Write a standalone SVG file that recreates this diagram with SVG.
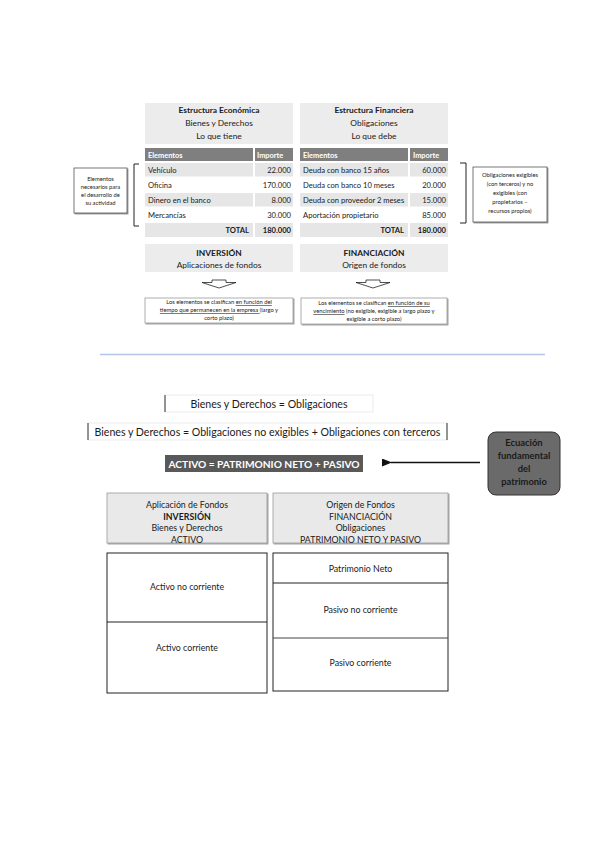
<svg xmlns="http://www.w3.org/2000/svg" width="599" height="848" viewBox="0 0 599 848">
<style>
text{font-family:Lato,"Open Sans","Liberation Sans",sans-serif;fill:#1a1a1a}
.c{text-anchor:middle}
.r{text-anchor:end}
.b{font-weight:bold}
.h{font-size:8.4px}
.t{font-size:7.6px}
.th{font-size:7.4px;fill:#fff;font-weight:bold}
.s{font-size:5.8px}
.hd{fill:#ececec}
.row{fill:#e6e6e6}
.thd{fill:#7f7f7f}
.note{fill:#fff;stroke:#999;stroke-width:0.8}
.eq{font-size:10.6px}
.bx{fill:#fff;stroke:#222;stroke-width:1}
.bh{fill:#e9e9e9;stroke:#999;stroke-width:0.8}
.bt{font-size:8.8px}
.u{text-decoration:underline}
</style>
<defs>
<marker id="ah" markerWidth="10" markerHeight="8" refX="1" refY="4" orient="auto" markerUnits="userSpaceOnUse">
<path d="M10,0 L0,4 L10,8 Z" fill="#111"/>
</marker>
<filter id="sh" x="-10%" y="-10%" width="130%" height="140%">
<feDropShadow dx="1" dy="1" stdDeviation="0.6" flood-color="#000" flood-opacity="0.45"/>
</filter>
</defs>

<g id="eco">
<rect class="hd" x="145" y="103" width="148" height="41"/>
<text class="c b h" x="219" y="113">Estructura Económica</text>
<text class="c h" x="219" y="126">Bienes y Derechos</text>
<text class="c h" x="219" y="139">Lo que tiene</text>
<rect class="thd" x="145" y="148" width="108" height="13"/>
<rect class="thd" x="255" y="148" width="38" height="13"/>
<text class="th" x="148" y="157.5">Elementos</text>
<text class="th" x="257" y="157.5">Importe</text>
<rect class="row" x="145" y="163" width="108" height="13.5"/><rect class="row" x="255" y="163" width="38" height="13.5"/>
<rect class="row" x="145" y="193" width="108" height="13.5"/><rect class="row" x="255" y="193" width="38" height="13.5"/>
<rect class="row" x="145" y="223" width="108" height="14"/><rect class="row" x="255" y="223" width="38" height="14"/>
<text class="t" x="148" y="172.5">Vehículo</text><text class="t r" x="291" y="172.5">22.000</text>
<text class="t" x="148" y="187.5">Oficina</text><text class="t r" x="291" y="187.5">170.000</text>
<text class="t" x="148" y="202.5">Dinero en el banco</text><text class="t r" x="291" y="202.5">8.000</text>
<text class="t" x="148" y="217.5">Mercancías</text><text class="t r" x="291" y="217.5">30.000</text>
<text class="t r b" x="249" y="233">TOTAL</text><text class="t r b" x="291" y="233">180.000</text>
</g>

<g id="fin">
<rect class="hd" x="300" y="103" width="148" height="41"/>
<text class="c b h" x="374" y="113">Estructura Financiera</text>
<text class="c h" x="374" y="126">Obligaciones</text>
<text class="c h" x="374" y="139">Lo que debe</text>
<rect class="thd" x="300" y="148" width="108" height="13"/>
<rect class="thd" x="410" y="148" width="38" height="13"/>
<text class="th" x="303" y="157.5">Elementos</text>
<text class="th" x="413" y="157.5">Importe</text>
<rect class="row" x="300" y="163" width="108" height="13.5"/><rect class="row" x="410" y="163" width="38" height="13.5"/>
<rect class="row" x="300" y="193" width="108" height="13.5"/><rect class="row" x="410" y="193" width="38" height="13.5"/>
<rect class="row" x="300" y="223" width="108" height="14"/><rect class="row" x="410" y="223" width="38" height="14"/>
<text class="t" x="303" y="172.5">Deuda con banco 15 años</text><text class="t r" x="446" y="172.5">60.000</text>
<text class="t" x="303" y="187.5">Deuda con banco 10 meses</text><text class="t r" x="446" y="187.5">20.000</text>
<text class="t" x="303" y="202.5">Deuda con proveedor 2 meses</text><text class="t r" x="446" y="202.5">15.000</text>
<text class="t" x="303" y="217.5">Aportación propietario</text><text class="t r" x="446" y="217.5">85.000</text>
<text class="t r b" x="404" y="233">TOTAL</text><text class="t r b" x="446" y="233">180.000</text>
</g>

<g id="elementos">
<rect x="74" y="168" width="53" height="45" fill="#fff" stroke="#555" stroke-width="0.8" filter="url(#sh)"/>
<text class="c s" x="100.5" y="181">Elementos</text>
<text class="c s" x="100.5" y="189">necesarios para</text>
<text class="c s" x="100.5" y="197">el desarrollo de</text>
<text class="c s" x="100.5" y="205">su actividad</text>
</g>

<g id="obligaciones">
<rect x="473" y="167" width="74" height="55" fill="#fff" stroke="#555" stroke-width="0.8" filter="url(#sh)"/>
<text class="c s" x="510" y="177">Obligaciones exigibles</text>
<text class="c s" x="510" y="186">(con terceros) y no</text>
<text class="c s" x="510" y="195">exigibles (con</text>
<text class="c s" x="510" y="204">propietarios –</text>
<text class="c s" x="510" y="213">recursos propios)</text>
</g>

<g id="inversion">
<rect class="hd" x="145" y="244" width="148" height="28"/>
<text class="c b h" x="219" y="256">INVERSIÓN</text>
<text class="c h" x="219" y="268">Aplicaciones de fondos</text>
</g>
<g id="financiacion">
<rect class="hd" x="300" y="244" width="148" height="28"/>
<text class="c b h" x="374" y="256">FINANCIACIÓN</text>
<text class="c h" x="374" y="268">Origen de fondos</text>
</g>

<g id="nota-inv">
<rect class="note" x="145" y="298" width="148" height="25" filter="url(#sh)"/>
<text class="c s" x="219" y="304">Los elementos se clasifican <tspan class="u">en función del</tspan></text>
<text class="c s" x="219" y="312"><tspan class="u">tiempo que permanecen en la empresa </tspan>(largo y</text>
<text class="c s" x="219" y="320">corto plazo)</text>
</g>
<g id="nota-fin">
<rect class="note" x="301" y="298" width="146" height="26" filter="url(#sh)"/>
<text class="c s" x="374" y="305">Los elementos se clasifican <tspan class="u">en función de su</tspan></text>
<text class="c s" x="374" y="313"><tspan class="u">vencimiento</tspan> (no exigible, exigible a largo plazo y</text>
<text class="c s" x="374" y="321">exigible a corto plazo)</text>
</g>

<g id="eq1">
<rect x="165" y="395" width="208" height="17" fill="#fff" stroke="#ddd" stroke-width="0.6"/>
<line x1="165" y1="395" x2="165" y2="412" stroke="#333" stroke-width="1"/>
<text class="c eq" x="269" y="407.5">Bienes y Derechos = Obligaciones</text>
</g>
<g id="eq2">
<rect x="88" y="423" width="359" height="17" fill="#fff" stroke="#ddd" stroke-width="0.6"/>
<line x1="88" y1="423" x2="88" y2="440" stroke="#333" stroke-width="1"/>
<line x1="447" y1="423" x2="447" y2="440" stroke="#333" stroke-width="1"/>
<text class="c eq" x="267.5" y="435.5">Bienes y Derechos = Obligaciones no exigibles + Obligaciones con terceros</text>
</g>
<g id="eq3">
<rect x="165" y="455" width="198" height="17" fill="#595959"/>
<text class="c b" x="264" y="467.5" style="font-size:10.2px;fill:#fff">ACTIVO = PATRIMONIO NETO + PASIVO</text>
</g>
<g id="ecuacion">
<rect x="488" y="432" width="72" height="63" rx="8" fill="#6a6a6a" stroke="#333" stroke-width="1"/>
<text class="c b" x="524" y="446" style="font-size:9.4px">Ecuación</text>
<text class="c b" x="524" y="459" style="font-size:9.4px">fundamental</text>
<text class="c b" x="524" y="472" style="font-size:9.4px">del</text>
<text class="c b" x="524" y="485" style="font-size:9.4px">patrimonio</text>
</g>

<g id="activo">
<rect class="bh" x="107" y="493" width="160" height="50" filter="url(#sh)"/>
<text class="c bt" x="187" y="508">Aplicación de Fondos</text>
<text class="c bt b" x="187" y="519.5">INVERSIÓN</text>
<text class="c bt" x="187" y="531">Bienes y Derechos</text>
<text class="c bt" x="187" y="542.5">ACTIVO</text>
<rect class="bx" x="107" y="553" width="160" height="140"/>
<line x1="107" y1="622" x2="267" y2="622" stroke="#222" stroke-width="1"/>
<text class="c bt" x="187" y="590">Activo no corriente</text>
<text class="c bt" x="187" y="651">Activo corriente</text>
</g>
<g id="pasivo">
<rect class="bh" x="273" y="493" width="175" height="50" filter="url(#sh)"/>
<text class="c bt" x="360.5" y="508">Origen de Fondos</text>
<text class="c bt" x="360.5" y="519.5">FINANCIACIÓN</text>
<text class="c bt" x="360.5" y="531">Obligaciones</text>
<text class="c bt" x="360.5" y="542.5">PATRIMONIO NETO Y PASIVO</text>
<rect class="bx" x="273" y="553" width="175" height="138"/>
<line x1="273" y1="583" x2="448" y2="583" stroke="#222" stroke-width="1"/>
<line x1="273" y1="638" x2="448" y2="638" stroke="#444" stroke-width="1.2"/>
<text class="c bt" x="360.5" y="572">Patrimonio Neto</text>
<text class="c bt" x="360.5" y="613">Pasivo no corriente</text>
<text class="c bt" x="360.5" y="666">Pasivo corriente</text>
</g>

<g id="connectors" fill="none" stroke="#222">
<path d="M139,164 H134 V226 H139" stroke-width="1"/>
<path d="M460,163 H466 V223 H460" stroke-width="1"/>
<path d="M212,280 H226 V282.5 H236 L219,288 L202,282.5 H212 Z" stroke-width="0.8"/>
<path d="M366,280 H380 V282.5 H390 L373,288 L356,282.5 H366 Z" stroke-width="0.8"/>
<line x1="100" y1="354.5" x2="545" y2="354.5" stroke="#b4c6e7" stroke-width="1.5"/>
<line x1="480" y1="462.5" x2="391" y2="462.5" stroke="#111" stroke-width="1.6" marker-end="url(#ah)"/>
</g>
</svg>
